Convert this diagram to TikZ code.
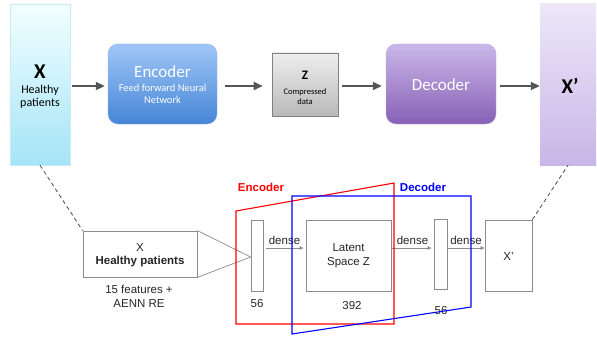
\documentclass[tikz,border=0pt]{standalone}
\usepackage{fontspec}
\setmainfont{Liberation Sans}
\newfontfamily\calfont{Carlito}
\usetikzlibrary{arrows.meta,calc}
\definecolor{arrgray}{HTML}{555555}
\definecolor{boxgray}{HTML}{8C8C8C}
\tikzset{
  topbox/.style={minimum width=#1, inner sep=0pt, draw=none},
  bigarrow/.style={draw=arrgray, line width=1.7pt, -{Triangle[length=9pt,width=8pt]}},
  plainbox/.style={draw=boxgray, line width=0.8pt, inner sep=0pt},
  densearrow/.style={draw=boxgray, line width=0.7pt, -{Triangle[length=4pt,width=3.5pt]}},
  btxt/.style={font=\fontsize{11.5}{13}\selectfont, inner sep=0pt, text=black!85},
  dashlink/.style={draw=black!70, line width=0.8pt, dash pattern=on 4pt off 3pt},
}
\begin{document}
\begin{tikzpicture}[x=1pt,y=-1pt]
\useasboundingbox (0,0) rectangle (597,337);
% ---- top row ----
\node[topbox=60pt, minimum height=161pt, top color=cyan!5!white, bottom color={rgb,255:red,165;green,228;blue,247}, draw={rgb,255:red,200;green,235;blue,245}] (X) at (40,84.5) {};
\node[inner sep=0pt, font=\calfont\fontsize{21}{24}\selectfont\bfseries] (Xl) at (40,72) {X};
\node[inner sep=0pt, font=\calfont\fontsize{12}{14}\selectfont, align=center] (Xs) at (40,97) {Healthy\\[-1pt]patients};

\node[topbox=109pt, minimum height=80pt, rounded corners=10pt, top color={rgb,255:red,160;green,198;blue,247}, bottom color={rgb,255:red,70;green,134;blue,214}, draw={rgb,255:red,140;green,180;blue,235}] (enc) at (162.5,84) {};
\node[inner sep=0pt, text=white, font=\calfont\fontsize{17}{20}\selectfont] (encl) at (162.5,72) {Encoder};
\node[inner sep=0pt, text=white, font=\calfont\fontsize{10.5}{12.5}\selectfont, align=center] (encs) at (162.5,94) {Feed forward Neural\\Network};

\node[topbox=66pt, minimum height=63pt, top color={rgb,255:red,238;green,238;blue,238}, bottom color={rgb,255:red,185;green,185;blue,185}, draw=black!50, line width=0.6pt] (Z) at (305,84.5) {};
\node[inner sep=0pt, font=\calfont\fontsize{13}{15}\selectfont\bfseries] (Zl) at (305,75) {Z};
\node[inner sep=0pt, font=\calfont\fontsize{8.5}{10}\selectfont, align=center] (Zs) at (305,97) {Compressed\\data};

\node[topbox=110pt, minimum height=80pt, rounded corners=10pt, top color={rgb,255:red,202;green,183;blue,233}, bottom color={rgb,255:red,135;green,97;blue,181}, draw={rgb,255:red,190;green,170;blue,225}] (dec) at (441,84) {};
\node[inner sep=0pt, text=white, font=\calfont\fontsize{17}{20}\selectfont] (decl) at (441,85) {Decoder};

\node[topbox=56pt, minimum height=161pt, top color={rgb,255:red,237;green,231;blue,248}, bottom color={rgb,255:red,200;green,182;blue,232}, draw=none] (Xp) at (568,84.5) {};
\node[inner sep=0pt, font=\calfont\fontsize{21}{24}\selectfont\bfseries] (Xpl) at (570,86) {X’};

\draw[bigarrow, shorten <=2pt, shorten >=3pt] (X.east |- 0,86) -- (enc.west |- 0,86);
\draw[bigarrow, shorten <=8pt, shorten >=9pt] (enc.east |- 0,86) -- (Z.west |- 0,86);
\draw[bigarrow, shorten <=4pt, shorten >=4pt] (Z.east |- 0,86) -- (dec.west |- 0,86);
\draw[bigarrow, shorten <=4pt, shorten >=0pt] (dec.east |- 0,86) -- (Xp.west |- 0,86);

% ---- bottom ----
\node[plainbox, minimum width=114pt, minimum height=46pt] (HP) at (140,254) {};
\node[btxt] (HPx) at (140,248) {X};
\node[btxt, font=\fontsize{11.5}{13}\selectfont\bfseries] (HPs) at (140,261.5) {Healthy patients};
\node[btxt, align=center, font=\fontsize{11.5}{14}\selectfont] (feat) at (139,296) {15 features +\\AENN RE};

\node[plainbox, minimum width=12pt, minimum height=71pt] (r1) at (257,255.5) {};
\node[btxt] (r1n) at (257,304) {56};
\node[plainbox, minimum width=85pt, minimum height=71pt] (lat) at (348.5,255.5) {};
\node[btxt, align=center, font=\fontsize{11.5}{14}\selectfont] (latl) at (348.5,256) {Latent\\Space Z};
\node[btxt] (latn) at (352,306) {392};
\node[plainbox, minimum width=13pt, minimum height=70pt] (r2) at (440.5,254) {};
\node[btxt] (r2n) at (441,311) {56};
\node[plainbox, minimum width=47pt, minimum height=71pt] (X2) at (508.5,255.5) {};
\node[btxt] (X2l) at (508.5,257) {X'};

\draw[boxgray, line width=0.7pt] (HP.north east) -- (r1.west |- 0,257) -- (HP.south east);

\draw[densearrow, shorten <=3pt, shorten >=2pt] (r1.east |- 0,248) -- node[btxt, above=3pt] (d1) {dense} (lat.west |- 0,248);
\draw[densearrow, shorten >=2pt] (lat.east |- 0,248) -- node[btxt, above=3pt] (d2) {dense} (r2.west |- 0,248);
\draw[densearrow] (r2.east |- 0,248) -- node[btxt, above=3pt] (d3) {dense} (X2.west |- 0,248);

% encoder / decoder outlines
\draw[red, line width=1.1pt] (236,211) -- (394,183) -- (394,324) -- (236,324) -- cycle;
\draw[blue, line width=1.1pt] (292,196) -- (471,196) -- (471,307) -- (292,334) -- cycle;
\node[btxt, text=red, font=\fontsize{11.5}{13}\selectfont\bfseries] (encb) at (261,187) {Encoder};
\node[btxt, text=blue, font=\fontsize{11.5}{13}\selectfont\bfseries] (decb) at (423,187) {Decoder};

% dashed links
\draw[dashlink] (X.south) -- (HP.north west);
\draw[dashlink] (X2.north east) -- (Xp.south);
\end{tikzpicture}
\end{document}
